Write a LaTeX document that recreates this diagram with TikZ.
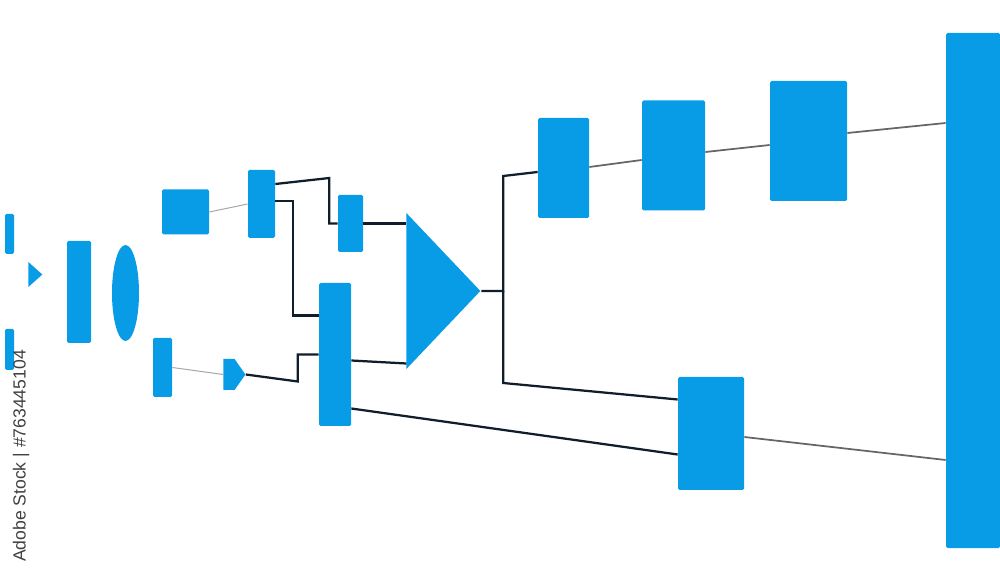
\documentclass[tikz,border=0pt]{standalone}
\usepackage{fontspec}
\newfontfamily\creditfont{Liberation Sans}
\usepackage{xcolor}
\usetikzlibrary{
  arrows.meta,          % arrow tips
  positioning,          % relative placement
  calc,                 % coordinate math
  shapes.geometric,     % triangles, ellipses
  shapes.symbols,       % signal shape
}
\definecolor{flowblue}{RGB}{8,155,230}
\definecolor{wirenavy}{RGB}{16,30,44}

\begin{document}
\begin{tikzpicture}[
  x=0.2mm, y=-0.2mm,
  block/.style 2 args={fill=flowblue, inner sep=0pt, rounded corners=0.3mm,
    minimum width=#1*0.2mm, minimum height=#2*0.2mm},
  funnel/.style 2 args={shape=isosceles triangle, isosceles triangle stretches,
    fill=flowblue, inner sep=0pt, anchor=lower side,
    minimum height=#1*0.2mm, minimum width=#2*0.2mm},
  flagtip/.style 2 args={shape=signal, signal to=east, signal pointer angle=110,
    fill=flowblue, inner sep=0pt, minimum width=#1*0.2mm, minimum height=#2*0.2mm},
  wire/.style={draw=wirenavy, line width=0.45mm},
  greywire/.style={draw=black!60, line width=0.35mm},
  farwire/.style={draw=black!35, line width=0.2mm},
]
  \useasboundingbox (0,0) rectangle (1000,583);
  % Far left column
  \node[block={9}{40}]  (inA) at (9.5,234) {};
  \node[block={9}{41}]  (inB) at (9.5,349.5) {};
  \node[funnel={14}{25}] (cue) at (28,274.5) {};
  \node[block={24}{102}] (src) at (79,292) {};
  \node[shape=ellipse, fill=flowblue, inner sep=0pt,
        minimum width=27*0.2mm, minimum height=96*0.2mm] (lens) at (125.5,293) {};
  % Upper branch
  \node[block={47}{45}] (pre)   at (185.5,212) {};
  \node[block={27}{68}] (split) at (261.5,204) {};
  \node[block={25}{57}] (gate)  at (350.5,223.5) {};
  % Lower branch
  \node[block={19}{59}]    (low)  at (162.5,367.5) {};
  \node[flagtip={22}{31}]  (flag) at (229,374.5) {};
  \node[block={32}{143}]   (mix)  at (335,354.5) {};
  \node[funnel={74}{156}]  (merge) at (406,291) {};
  % Right side
  \node[block={51}{100}] (outA) at (563.5,168) {};
  \node[block={63}{110}] (outB) at (673.5,155.5) {};
  \node[block={77}{120}] (outC) at (808.5,141) {};
  \node[block={66}{113}] (outD) at (711,433.5) {};
  \node[block={54}{515}] (sink) at (973,290.5) {};
  % Connectors
  \draw[farwire] (pre.east) -- (split.west);
  \draw[farwire] (low.east) -- (flag.west);
  \draw[wire] (split.east) ++(0,-20) -- ++(54,-6) |- (gate.west);
  \draw[wire] (split.east) ++(0,-3) -- ++(18,0) |- ($(mix.west)+(0,-39)$);
  \draw[wire] (flag.east) -- ++(52,7) |- (mix.west);
  \draw[wire] (gate.east) -- (gate.east -| merge.lower side);
  \draw[wire] ($(mix.east)+(0,6)$) -- ++(55,3);
  \draw[wire] (merge.apex) -- ++(22,0) coordinate (fork)
    -- ++(0,-115) -- ($(outA.west)+(0,4)$);
  \draw[wire] (fork) -- ++(0,92) -- ($(outD.west)+(0,-34)$);
  \draw[wire] ($(mix.east)+(0,54)$) -- ($(outD.west)+(0,21)$);
  \draw[greywire] ($(outA.east)+(0,-1)$) -- ($(outB.west)+(0,4.5)$);
  \draw[greywire] ($(outB.east)+(0,-3.5)$) -- ($(outC.west)+(0,4)$);
  \draw[greywire] ($(outC.east)+(0,-8)$) -- ($(sink.west)+(0,-167.5)$);
  \draw[greywire] ($(outD.east)+(0,3.5)$) -- ($(sink.west)+(0,169.5)$);
  % Credit line
  \node[rotate=90, text=black!75, inner sep=0pt,
        font=\creditfont\fontsize{10}{12}\selectfont] (credit) at (21,456)
    {Adobe Stock | \#763445104};
\end{tikzpicture}
\end{document}
